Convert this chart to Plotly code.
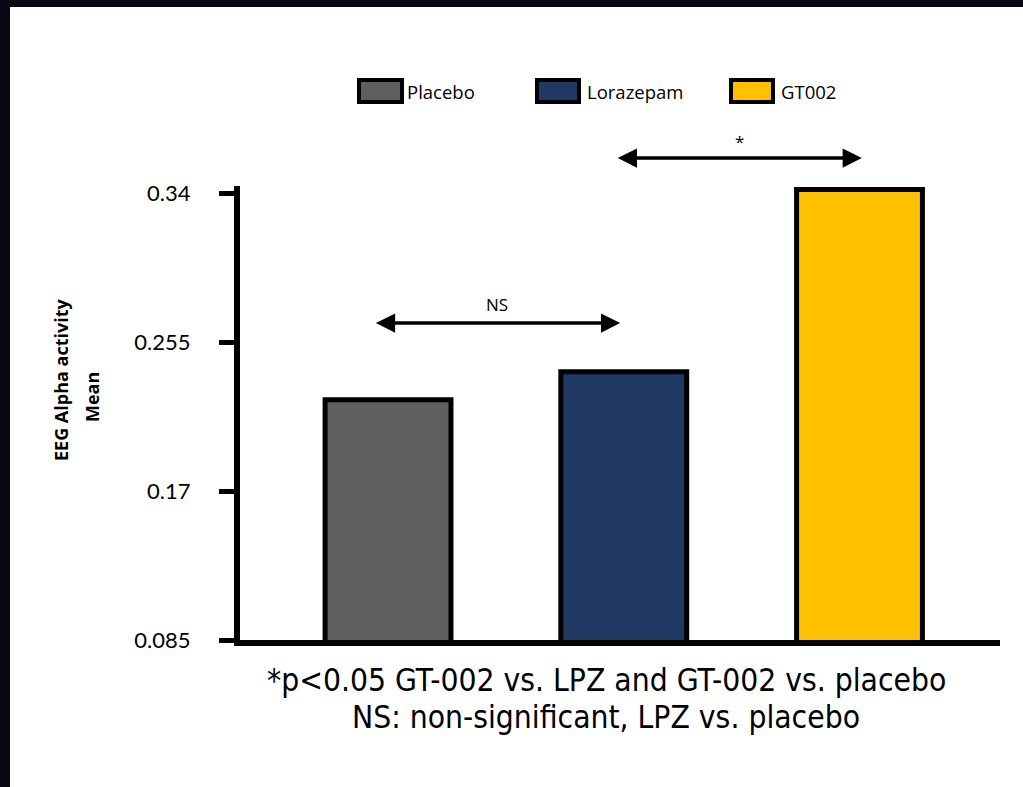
import plotly.graph_objects as go

# ---- data ----
categories = ["Placebo", "Lorazepam", "GT002"]
means = [0.222, 0.238, 0.342]
colors = ["#5f5f5f", "#203864", "#ffc000"]
tick_vals = [0.085, 0.17, 0.255, 0.34]
tick_text = ["0.085", "0.17", "0.255", "0.34"]
y_title_lines = ["EEG Alpha activity", "Mean"]
footnote_lines = ["*p<0.05 GT-002 vs. LPZ and GT-002 vs. placebo",
                  "NS: non-significant, LPZ vs. placebo"]
# comparisons: (from index, to index, label)
comparisons = [(0, 1, "NS"), (1, 2, "*")]

W, H = 1023, 787
ML, MR, MT, MB = 240, 23, 186, 147
PW, PH = W - ML - MR, H - MT - MB
Y_MIN = 0.085
PX_PER_UNIT = 447 / 0.255          # 0.085 -> 0.34 spans 447 px
Y_MAX = Y_MIN + PH / PX_PER_UNIT   # a little above 0.34 so the tallest bar shows


def px_x(px):
    return (px - ML) / PW


def px_y(py):
    return (H - MB - py) / PH


fig = go.Figure()
fig.add_trace(go.Bar(
    x=categories, y=means,
    marker=dict(color=colors, line=dict(color="black", width=5)),
    width=0.534, showlegend=False,
))

fig.update_xaxes(
    type="category", range=[-0.628, 2.596],
    showline=True, linecolor="black", linewidth=6,
    showticklabels=False, ticks="", showgrid=False, zeroline=False,
)
fig.update_yaxes(
    range=[Y_MIN, Y_MAX], tickvals=tick_vals, ticktext=tick_text,
    showline=True, linecolor="black", linewidth=6,
    ticks="outside", ticklen=15, tickwidth=5, tickcolor="black",
    ticklabelstandoff=24,
    tickfont=dict(family="Lato, Open Sans, sans-serif", size=22, color="black"),
    showgrid=False, zeroline=False,
)

annotations = []
shapes = []

# dark frame bands
frame = "#070814"
shapes.append(dict(type="rect", xref="paper", yref="paper",
                   x0=px_x(0), x1=px_x(W), y0=px_y(7), y1=px_y(0),
                   fillcolor=frame, line=dict(width=0), layer="below"))
shapes.append(dict(type="rect", xref="paper", yref="paper",
                   x0=px_x(0), x1=px_x(10), y0=px_y(H), y1=px_y(0),
                   fillcolor=frame, line=dict(width=0), layer="below"))

# comparison arrows (x in category units, y in pixels of the page)
arrow_specs = [
    dict(x0=-0.058, x1=0.985, py=323, tpy=304),
    dict(x0=0.968, x1=2.01, py=158, tpy=142),
]
for (i, j, lab), spec in zip(comparisons, arrow_specs):
    annotations.append(dict(
        x=spec["x1"], y=px_y(spec["py"]), ax=spec["x0"], ay=0,
        xref="x", yref="paper", axref="x", ayref="pixel",
        text="", showarrow=True, arrowhead=2, startarrowhead=2,
        arrowside="end+start", arrowsize=1.1, startarrowsize=1.1,
        arrowwidth=3.5, arrowcolor="black", standoff=0, startstandoff=0,
    ))
    annotations.append(dict(
        x=(spec["x0"] + spec["x1"]) / 2, y=px_y(spec["tpy"]),
        xref="x", yref="paper", xanchor="center", yanchor="middle",
        text=lab, showarrow=False,
        font=dict(family="Open Sans, sans-serif", size=17, color="black"),
    ))

# y title (two lines)
for line, (cx, cy) in zip(y_title_lines, [(61, 380), (92, 397)]):
    annotations.append(dict(
        x=px_x(cx), y=px_y(cy), xref="paper", yref="paper",
        xanchor="center", yanchor="middle",
        text="<b>" + line + "</b>", textangle=-90, showarrow=False,
        font=dict(family="Open Sans, sans-serif", size=18, color="black"),
    ))

# custom legend
legend_pos = [(357, 404, 407), (535, 581, 587), (729, 775, 781)]
for cat, col, (bx0, bx1, tx) in zip(categories, colors, legend_pos):
    shapes.append(dict(type="rect", xref="paper", yref="paper",
                       x0=px_x(bx0 + 2), x1=px_x(bx1 - 2),
                       y0=px_y(102), y1=px_y(80),
                       fillcolor=col, line=dict(color="black", width=4)))
    annotations.append(dict(
        x=px_x(tx - 2), y=px_y(91), xref="paper", yref="paper",
        xanchor="left", yanchor="middle", text=cat, showarrow=False,
        font=dict(family="Open Sans, sans-serif", size=18.5, color="black"),
    ))

# footnote
for line, cy in zip(footnote_lines, [680, 717]):
    annotations.append(dict(
        x=px_x(606), y=px_y(cy), xref="paper", yref="paper",
        text=line, showarrow=False, xanchor="center", yanchor="middle",
        font=dict(family="DejaVu Sans Condensed, Liberation Sans, sans-serif",
                  size=31.5, color="black"),
    ))

fig.update_layout(
    width=W, height=H,
    margin=dict(l=ML, r=MR, t=MT, b=MB),
    paper_bgcolor="white", plot_bgcolor="white",
    shapes=shapes, annotations=annotations,
    showlegend=False,
)

fig.write_html("out.html")
